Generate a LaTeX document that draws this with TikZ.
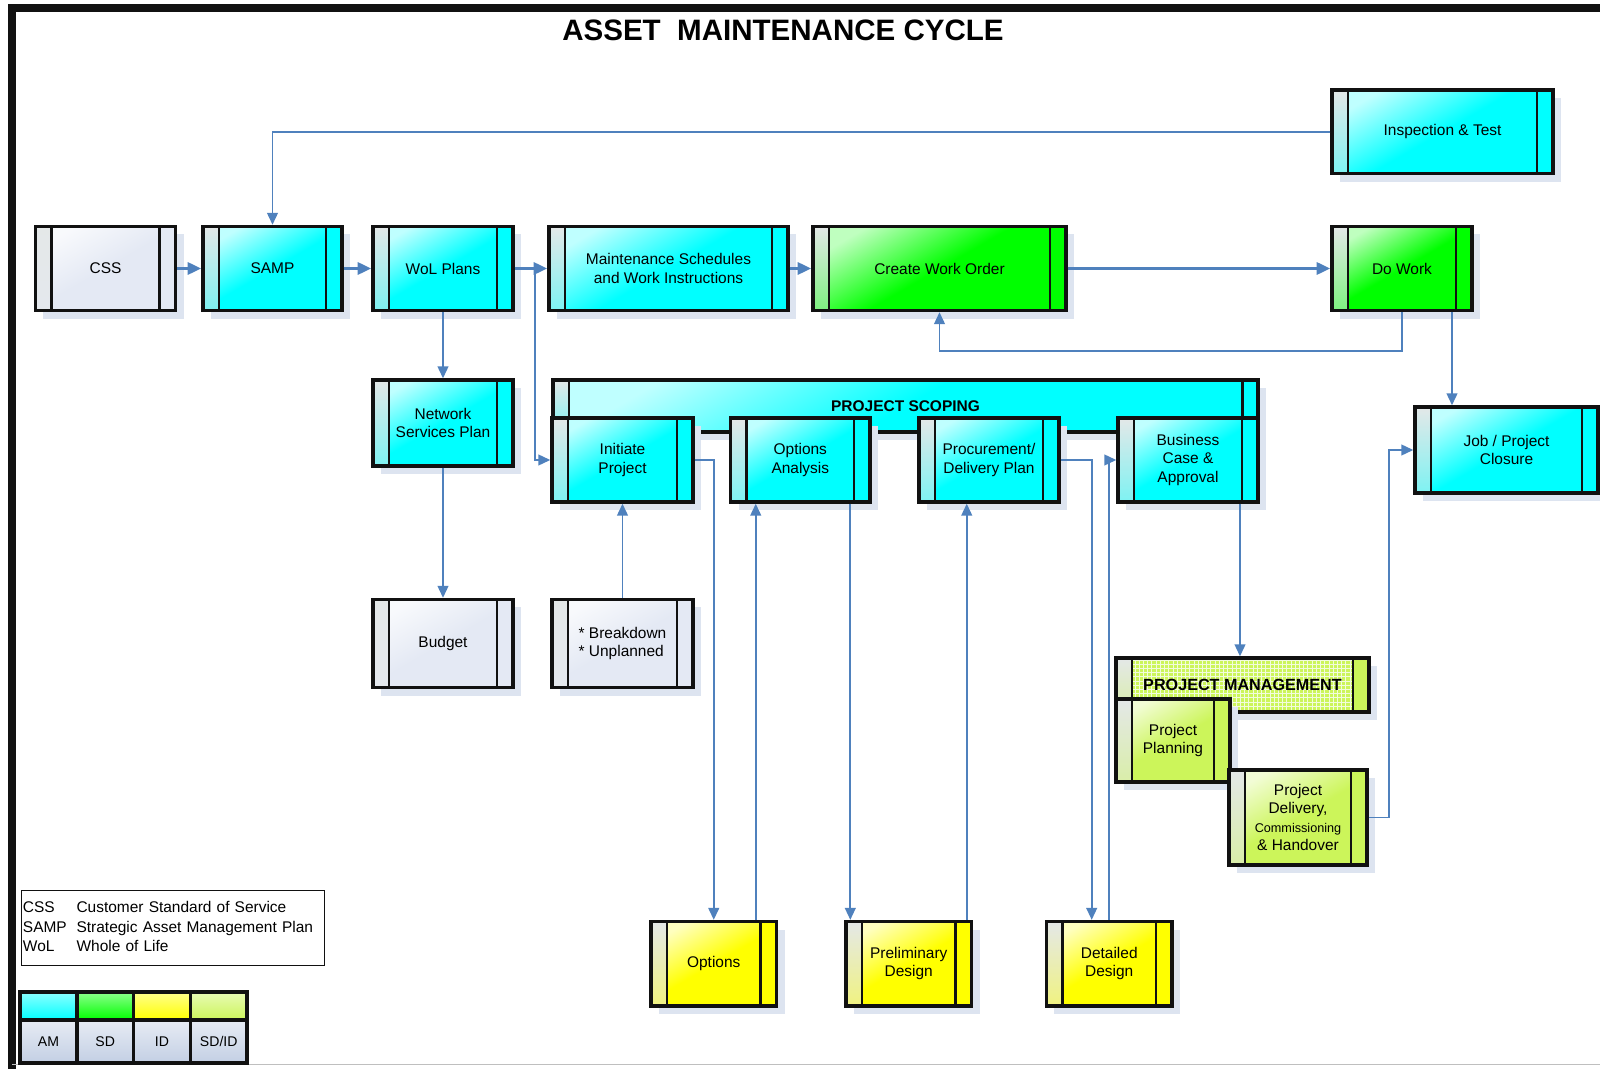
\documentclass[tikz,border=0pt]{standalone}
\usepackage{fontspec}
\setmainfont{Liberation Sans}
\usepackage{tikz}
\usetikzlibrary{arrows.meta,calc,shadows,patterns}
\definecolor{ink}      {HTML}{111111}
\definecolor{flow}     {HTML}{4F81BD}
\definecolor{amcyan}   {HTML}{00FFFF}
\definecolor{sdgreen}  {HTML}{00FF00}
\definecolor{idyellow} {HTML}{FFFF00}
\definecolor{sdidgreen}{HTML}{CCF55A}
\definecolor{plainbg}  {HTML}{E4E9F4}
\definecolor{stripbg}  {HTML}{E4E8E8}
\definecolor{shadowbg} {HTML}{DDE4F0}
\definecolor{keybg}    {HTML}{C3CFE4}
\definecolor{gridline} {HTML}{F2FCDC}
\tikzset{
  boxbase/.style ={draw=ink, line width=2.4pt, align=center, inner sep=1pt,
                   minimum width=3.5cm, minimum height=2.1cm,
                   font=\fontsize{11}{13}\selectfont,
                   general shadow={fill=shadowbg, shadow xshift=0.2cm,
                                   shadow yshift=-0.2cm},
                   path picture={
                     \shade[top color=stripbg, bottom color=#1!45!stripbg]
                       (path picture bounding box.north west) rectangle
                       ([xshift=0.4cm]path picture bounding box.south west);
                     \fill[fill=#1]
                       ([xshift=-0.4cm]path picture bounding box.north east) rectangle
                       (path picture bounding box.south east);
                     \draw[draw=ink, line width=2pt]
                       ([xshift=0.4cm]path picture bounding box.north west) --
                       ([xshift=0.4cm]path picture bounding box.south west)
                       ([xshift=-0.4cm]path picture bounding box.north east) --
                       ([xshift=-0.4cm]path picture bounding box.south east);
                   }},
  box/.style     ={boxbase=#1, top color=#1!25!white, bottom color=#1,
                   middle color=#1, shading angle=30},
  gridbox/.style ={boxbase=#1, preaction={fill=#1}, pattern=grid,
                   pattern color=gridline},
  head/.style    ={font=\fontsize{11}{13}\bfseries\selectfont},
  title/.style   ={font=\fontsize{21}{24}\bfseries\selectfont},
  arr/.style     ={-{Triangle[length=0.3cm,width=0.27cm]}, draw=flow,
                   line width=1.3pt},
  bigarr/.style  ={-{Triangle[length=0.34cm,width=0.3cm]}, draw=flow,
                   line width=2.2pt},
  frame/.style   ={draw=ink, line width=5pt},
  note/.style    ={draw=ink, line width=0.8pt, text width=7.5cm, align=left,
                   minimum height=1.875cm, inner sep=1pt,
                   font=\fontsize{11}{14}\selectfont},
  key/.style     ={draw=ink, line width=2.4pt, inner sep=0pt,
                   minimum width=1.42cm, font=\fontsize{10}{12}\selectfont},
  swatch/.style  ={key, minimum height=0.7cm, top color=#1!45!white,
                   bottom color=#1},
  keylab/.style  ={key, minimum height=1.075cm, top color=keybg!40!white,
                   bottom color=keybg},
}
\begin{document}
\begin{tikzpicture}[x=0.025cm,y=-0.025cm]
  \useasboundingbox (0,0) rectangle (1600,1069);
  \draw[frame] (12,1069) -- (12,8) -- (1600,8);
  \draw[gray!50, line width=0.6pt] (12,1064) -- (1600,1064);

  \node[title] (ttl) at (783,30) {ASSET~~MAINTENANCE CYCLE};

  % top row
  \node[box=amcyan, minimum width=5.525cm, minimum height=2.09cm] (insp)
    at (1442.5,131.75) {Inspection \& Test};
  \node[box=plainbg] (css) at (105.5,268.5) {CSS};
  \node[box=amcyan, minimum width=3.475cm] (samp) at (272.5,268.5) {SAMP};
  \node[box=amcyan] (wol) at (443,268.5) {WoL Plans};
  \node[box=amcyan, minimum width=5.975cm] (maint) at (668.5,268.5)
    {Maintenance Schedules\\and Work Instructions};
  \node[box=sdgreen, minimum width=6.325cm] (cwo) at (939.5,268.5)
    {Create Work Order};
  \node[box=sdgreen] (dowork) at (1402,268.5) {Do Work};

  \node[box=amcyan, minimum height=2.15cm] (netplan) at (443,423)
    {Network\\Services Plan};
  \node[box=plainbg, minimum height=2.2cm] (budget) at (443,643.5) {Budget};
  \node[box=plainbg, minimum width=3.525cm, minimum height=2.2cm, align=left]
    (brk) at (622.5,643.5) {* Breakdown\\* Unplanned};

  % project scoping
  \node[box=amcyan, head, minimum width=17.625cm, minimum height=1.3cm] (scope)
    at (905.5,406) {PROJECT SCOPING};
  \node[box=amcyan, minimum width=3.525cm] (init) at (622.5,460)
    {Initiate\\Project};
  \node[box=amcyan, minimum width=3.485cm] (optanal) at (800.3,460)
    {Options\\Analysis};
  \node[box=amcyan] (procure) at (989,460) {Procurement/\\Delivery Plan};
  \node[box=amcyan] (bizcase) at (1188,460) {Business\\Case \&\\Approval};
  \node[box=amcyan, minimum width=4.575cm, minimum height=2.15cm] (closure)
    at (1506.5,450) {Job / Project\\Closure};

  % project management
  \node[gridbox=sdidgreen, font=\fontsize{11.5}{14}\bfseries\selectfont,
        minimum width=6.325cm, minimum height=1.35cm] (pmhead)
    at (1242.5,685) {PROJECT MANAGEMENT};
  \node[box=sdidgreen, minimum width=2.85cm, minimum height=2.075cm] (pmplan)
    at (1173,740.5) {Project\\Planning};
  \node[box=sdidgreen, minimum width=3.45cm, minimum height=2.375cm] (pmdeliv)
    at (1298,817.5)
    {Project\\Delivery,\\{\fontsize{9}{11}\selectfont Commissioning}\\\& Handover};

  % design outputs
  \node[box=idyellow, minimum width=3.14cm, minimum height=2.11cm] (options)
    at (713.75,963.75) {Options};
  \node[box=idyellow, minimum width=3.14cm, minimum height=2.11cm] (prelim)
    at (908.75,963.75) {Preliminary\\Design};
  \node[box=idyellow, minimum width=3.14cm, minimum height=2.11cm] (detailed)
    at (1109.25,963.75) {Detailed\\Design};

  % legends
  \node[note, anchor=north west] (abbr) at (21,890)
    {\begin{tabular}{@{}p{1.34cm}@{}l@{}}
       CSS  & Customer Standard of Service\\
       SAMP & Strategic Asset Management Plan\\
       WoL  & Whole of Life
     \end{tabular}};
  \node[swatch=amcyan]    (k1) at (48.5,1006)  {};
  \node[swatch=sdgreen]   (k2) at (105.25,1006) {};
  \node[swatch=idyellow]  (k3) at (162,1006)   {};
  \node[swatch=sdidgreen] (k4) at (218.75,1006) {};
  \node[keylab] (l1) at (48.5,1041.5)  {AM};
  \node[keylab] (l2) at (105.25,1041.5) {SD};
  \node[keylab] (l3) at (162,1041.5)   {ID};
  \node[keylab] (l4) at (218.75,1041.5) {SD/ID};

  % connectors
  \coordinate (split) at ($(wol.east)+(20,0)$);
  \coordinate (dw) at ($(dowork.south)+(50,0)$);
  \coordinate (o1) at ($(options.north)+(42,0)$);
  \coordinate (o2) at ($(optanal.south)+(50,0)$);
  \coordinate (o3) at ($(prelim.north)+(58,0)$);
  \coordinate (o4) at ($(procure.east)+(31,0)$);
  \coordinate (o5) at ($(bizcase.south)+(52,0)$);

  \draw[arr] (insp.west) -| (samp.north);
  \draw[bigarr] (css) -- (samp);
  \draw[bigarr] (samp) -- (wol);
  \draw[bigarr] (wol) -- (maint);
  \draw[bigarr] (maint) -- (cwo);
  \draw[bigarr] (cwo) -- (dowork);
  \draw[arr] (dowork.south) -- ++(0,39) -| (cwo.south);
  \draw[arr] (dw) -- (dw |- closure.north);
  \draw[arr] (wol) -- (netplan);
  \draw[arr] (netplan) -- (budget);
  \draw[arr] (split) |- (init.west);
  \draw[arr] (brk) -- (init);
  \draw[arr] (init.east) -| (options.north);
  \draw[arr] (o1) -- (o1 |- optanal.south);
  \draw[arr] (o2) -- (o2 |- prelim.north);
  \draw[arr] (o3) -- (o3 |- procure.south);
  \draw[arr] (procure.east) -- (o4) -- (o4 |- detailed.north);
  \draw[arr] (detailed.north) |- (bizcase.west);
  \draw[arr] (o5) -- (o5 |- pmhead.north);
  \draw[arr] (pmdeliv.east) -- ++(20,0) |- (closure.west);
\end{tikzpicture}
\end{document}
